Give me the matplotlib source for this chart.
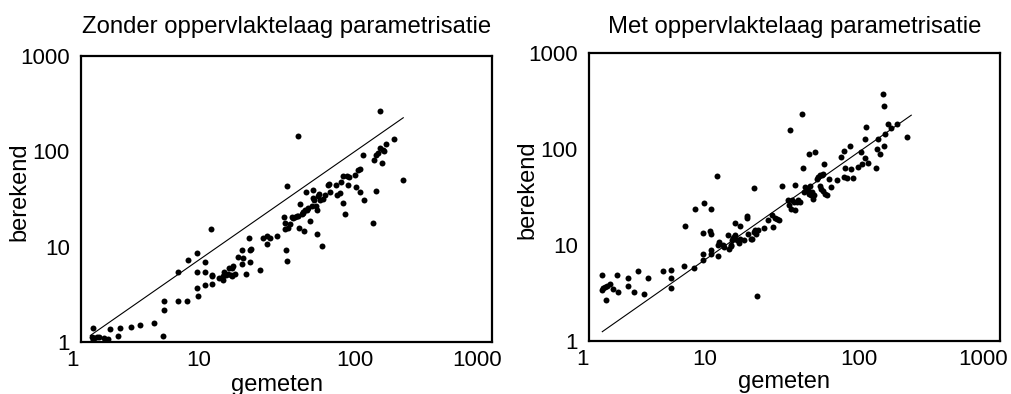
import matplotlib
matplotlib.use("Agg")
import matplotlib.pyplot as plt
import matplotlib.transforms as mtransforms

plt.rcParams['font.family'] = ['Liberation Sans', 'DejaVu Sans']

titles = ["Zonder oppervlaktelaag parametrisatie", "Met oppervlaktelaag parametrisatie"]
xlabel_text = "gemeten"
ylabel_text = "berekend"
tick_values = [1, 10, 100, 1000]
tick_labels = ["1", "10", "100", "1000"]

# 1:1 reference line end points
line_left = [1.17, 225]
line_right = [1.25, 225]

# Left panel: without surface-layer parametrisation
left_gemeten = [
    1.22, 1.20, 1.24, 1.30, 1.36, 1.46, 1.58, 1.22, 1.63, 1.91, 1.87, 2.31, 2.70, 3.43, 3.97,
    4.03, 4.03, 5.08, 5.91, 5.08, 6.0, 6.98, 7.03, 6.98, 7.11, 8.04, 8.09, 8.0, 9.04, 9.1,
    9.04, 8.94, 10.2, 10.9, 10.9, 11.1, 11.4, 11.8, 12.1, 12.4, 12.7, 12.9, 12.6, 13.2, 14.1,
    15.1, 15.0, 15.0, 16.1, 17.1, 17.0, 16.9, 17.4, 20.3, 21.2, 22.6, 22.6, 24.0, 26.8, 30.5,
    30.8, 30.8, 31.4, 32.1, 32.1, 32.6, 33.5, 34.5, 35.5, 36.5, 37.5, 38.6, 39.2, 39.7, 40.8,
    41.5, 42.0, 43.2, 42.4, 43.9, 44.4, 45.6, 46.9, 48.3, 49.1, 49.6, 50.2, 51.9, 52.5, 52.5,
    54.0, 54.9, 55.6, 57.1, 58.7, 60.4, 63.1, 65.0, 65.7, 72.6, 74.3, 77.8, 78.6, 82.2, 82.2,
    84.5, 86.9, 89.3, 91.0, 100, 102, 106, 109, 108, 114, 116, 136, 138, 142, 142,
    146, 152, 152, 157, 159, 163, 167, 193, 223, 38.6,
]
left_berekend = [
    1.40, 1.13, 1.10, 1.12, 1.13, 1.10, 1.08, 1.06, 1.37, 1.40, 1.15, 1.44, 1.52, 1.60, 1.15,
    2.15, 2.67, 2.71, 2.67, 5.38, 7.31, 8.59, 5.38, 3.68, 3.06, 3.93, 6.96, 5.42, 4.89, 5.04,
    4.09, 15.3, 4.65, 4.51, 4.96, 5.47, 5.08, 5.21, 5.93, 5.04, 6.02, 6.22, 4.96, 5.21, 7.8,
    7.55, 9.3, 6.58, 5.21, 6.9, 9.3, 12.4, 9.46, 5.69, 12.4, 10.6, 12.8, 12.4, 12.8, 20.3,
    17.7, 15.5, 9.3, 7.08, 43.0, 15.7, 17.4, 20.5, 20.0, 20.3, 20.8, 21.1, 15.8, 28.0, 21.8,
    22.5, 23.3, 24.4, 14.5, 37.2, 24.0, 25.5, 18.7, 26.5, 39.0, 32.4, 31.1, 26.9, 24.4, 13.6,
    33.7, 35.7, 31.1, 10.1, 31.6, 35.1, 44.7, 45.4, 37.2, 44.0, 34.5, 36.5, 47.3, 28.5, 55.6,
    22.2, 55.6, 44.7, 53.8, 56.9, 42.6, 63.2, 65.3, 37.4, 92.3, 31.1, 17.7, 81.8, 91.6, 38.0,
    96.1, 263, 108, 75.5, 104, 100, 120, 134, 49.6, 144,
]

# Right panel: with surface-layer parametrisation
right_gemeten = [
    1.25, 1.24, 1.26, 1.30, 1.35, 1.42, 1.32, 1.50, 1.64, 1.60, 1.91, 1.91, 2.13, 2.29, 2.53,
    2.69, 3.46, 3.94, 3.94, 3.94, 4.90, 5.86, 6.81, 6.81, 7.71, 7.79, 8.71, 4.98, 5.93, 6.89,
    7.71, 6.81, 7.66, 7.79, 8.62, 15.9, 16.9,
    8.77, 8.96, 9.53, 9.64, 10.4, 10.5, 10.8, 11.1, 11.2, 11.5, 11.7, 12.1, 12.4, 12.7, 11.7,
    12.7, 13.5, 14.3, 14.3, 14.5, 15.1, 16.0, 16.4, 10.9,
    15.4, 16.3, 16.6, 17.0, 18.8, 20.1, 21.6, 22.2, 22.8, 23.7, 24.5, 25.5, 28.5, 29.0, 29.8,
    30.2, 31.4, 31.9, 32.8, 33.8, 34.7, 31.9, 35.7, 29.3, 36.7, 37.1, 37.7, 38.8, 39.9, 40.6,
    41.0, 41.7, 42.2, 43.4, 44.2, 45.9, 47.2, 48.5, 49.9, 51.3, 51.9, 48.5, 49.3, 50.8, 52.8,
    54.3, 56.8, 58.4, 64.9, 68.7, 73.0, 73.8, 76.7, 73.0, 80.3, 82.2, 84.0, 92.4, 96.6, 98.8,
    103, 103, 106, 108, 124, 126, 128, 133, 141, 142, 142, 145, 153, 159, 176,
    208, 40.3, 44.7,
]
right_berekend = [
    4.83, 3.37, 3.57, 3.65, 3.77, 3.89, 2.65, 3.51, 3.26, 4.87, 4.53, 3.71, 3.26, 5.36, 3.06,
    4.53, 5.32, 5.53, 4.53, 3.56, 6.09, 5.81, 6.92, 8.06, 8.80, 8.06, 7.74, 15.6, 23.7, 27.6,
    23.5, 13.2, 13.9, 13.1, 52.7, 39.6, 2.92,
    10.1, 10.7, 10.1, 9.53, 12.8, 9.16, 9.68, 11.2, 11.9, 12.1, 12.6, 11.2, 10.5, 11.6, 16.9,
    15.6, 11.2, 19.9, 19.1, 13.1, 11.6, 13.7, 14.2, 10.1,
    11.6, 13.7, 12.9, 14.2, 15.0, 18.1, 20.4, 15.4, 19.3, 18.8, 18.4, 40.8, 29.7, 25.9, 23.9,
    29.2, 28.0, 23.0, 28.0, 29.2, 28.0, 42.5, 233, 156, 63.4, 35.7, 40.2, 38.6, 37.1, 34.3,
    40.8, 32.9, 35.7, 30.4, 32.9, 49.1, 51.1, 53.2, 54.1, 55.3, 69.2, 40.8, 38.6, 36.5, 34.3,
    32.9, 49.1, 40.2, 47.9, 82.6, 51.1, 63.9, 50.3, 95.3, 107, 62.4, 49.9, 65.0, 93.1, 69.2,
    80.5, 128, 168, 71.5, 63.9, 99.3, 127, 89.4, 371, 280, 107, 144, 181, 165, 182,
    133, 88.0, 92.3,
]

fig = plt.figure(figsize=(10.12, 3.94), dpi=100)
ax_l = fig.add_axes([81 / 1012, 52 / 394, 411 / 1012, 286 / 394])
ax_r = fig.add_axes([589 / 1012, 53 / 394, 411 / 1012, 288 / 394])

# per-panel layout settings
panels = [
    dict(ax=ax_l, xs=left_gemeten, ys=left_berekend, ln=line_left, title=titles[0],
         tpad=16.5, xlab=(0.477, -0.112), shifts=[-8, -19, 0, -15]),
    dict(ax=ax_r, xs=right_gemeten, ys=right_berekend, ln=line_right, title=titles[1],
         tpad=14.5, xlab=(0.474, -0.104), shifts=[-6, -21, -4, -17]),
]

for p in panels:
    ax = p['ax']
    ax.set_xscale('log')
    ax.set_yscale('log')
    ax.set_xlim(1, 1000)
    ax.set_ylim(1, 1000)
    ax.plot(p['ln'], p['ln'], color='black', linewidth=0.8, zorder=2)
    ax.plot(p['xs'], p['ys'], 'o', color='black', markersize=4.3, markeredgewidth=0, zorder=3)
    ax.set_xticks(tick_values)
    ax.set_xticklabels(tick_labels)
    ax.set_yticks(tick_values)
    ax.set_yticklabels(tick_labels)
    ax.minorticks_off()
    ax.tick_params(axis='both', which='both', length=0, labelsize=16, colors='black')
    ax.tick_params(axis='x', pad=6)
    ax.tick_params(axis='y', pad=8)
    for tick, dx in zip(ax.xaxis.get_major_ticks(), p['shifts']):
        tick.label1.set_transform(tick.label1.get_transform() +
                                  mtransforms.ScaledTranslation(dx / 100, 0, fig.dpi_scale_trans))
    for sp in ax.spines.values():
        sp.set_linewidth(1.6)
        sp.set_color('black')
    ax.set_title(p['title'], fontsize=17.2, pad=p['tpad'])
    ax.set_xlabel(xlabel_text, fontsize=17)
    ax.set_ylabel(ylabel_text, fontsize=17)
    ax.xaxis.set_label_coords(*p['xlab'])
    ax.yaxis.set_label_coords(-0.122, 0.524)

fig.savefig('out.png', dpi=100)
